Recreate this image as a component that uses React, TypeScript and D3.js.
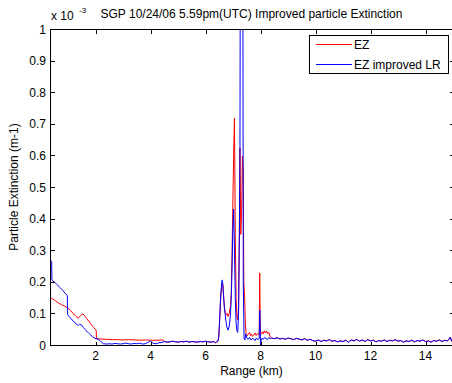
import * as d3 from 'd3';

const width = 452;
const height = 383;
const plot = { left: 50, right: 453, top: 29, bottom: 345 };

const xTicks = [2, 4, 6, 8, 10, 12, 14];
const yTicks = [0, 0.1, 0.2, 0.3, 0.4, 0.5, 0.6, 0.7, 0.8, 0.9, 1];
const yTickLabels = ['0', '0.1', '0.2', '0.3', '0.4', '0.5', '0.6', '0.7', '0.8', '0.9', '1'];

// [range km, extinction x 1e-3]
const ezNear: [number, number][] = [
  [0.34, 0.151], [0.45, 0.145], [0.55, 0.139], [0.65, 0.133], [0.75, 0.128], [0.85, 0.124],
  [0.95, 0.119], [1.02, 0.116], [1.1, 0.108], [1.2, 0.098], [1.28, 0.091], [1.36, 0.085],
  [1.42, 0.09], [1.48, 0.096], [1.54, 0.098], [1.6, 0.093], [1.68, 0.083], [1.76, 0.074],
  [1.84, 0.065], [1.92, 0.056], [2.0, 0.048], [2.02, 0.047], [2.03, 0.019], [2.2, 0.019],
  [2.4, 0.018], [2.6, 0.017], [2.8, 0.017], [3.0, 0.016], [3.2, 0.017], [3.4, 0.016],
  [3.6, 0.015], [3.8, 0.016], [4.0, 0.015], [4.2, 0.015], [4.45, 0.016],
];

const lrNear: [number, number][] = [
  [0.34, 0.27], [0.37, 0.268], [0.4, 0.262], [0.41, 0.205], [0.45, 0.202], [0.52, 0.198],
  [0.6, 0.191], [0.7, 0.182], [0.8, 0.173], [0.9, 0.163], [0.97, 0.156], [0.98, 0.096],
  [1.05, 0.089], [1.15, 0.079], [1.25, 0.07], [1.33, 0.064], [1.37, 0.062], [1.42, 0.066],
  [1.49, 0.063], [1.55, 0.056], [1.63, 0.048], [1.72, 0.04], [1.8, 0.033], [1.88, 0.027],
  [1.97, 0.021], [2.05, 0.02], [2.12, 0.017], [2.2, 0.01], [2.28, 0.004],
];

const lrGap: [number, number][] = [
  [2.4, 0.003], [2.5, 0.004], [2.6, 0.003], [2.7, 0.005], [2.8, 0.004], [2.9, 0.003],
  [3.0, 0.004], [3.1, 0.006], [3.2, 0.004], [3.3, 0.003], [3.4, 0.005], [3.5, 0.004],
  [3.6, 0.006], [3.7, 0.003], [3.8, 0.004], [3.9, 0.008], [4.0, 0.012], [4.1, 0.005],
  [4.2, 0.004], [4.3, 0.007], [4.45, 0.009],
];

const midShared: [number, number][] = [
  [4.5, 0.011], [4.6, 0.009], [4.7, 0.01], [4.8, 0.012], [4.9, 0.01], [5.0, 0.009],
  [5.1, 0.011], [5.2, 0.01], [5.3, 0.012], [5.4, 0.009], [5.5, 0.011], [5.6, 0.01],
  [5.7, 0.009], [5.8, 0.011], [5.9, 0.01], [6.0, 0.012], [6.1, 0.01], [6.2, 0.009],
  [6.3, 0.011], [6.35, 0.007], [6.4, 0.01],
];

const ezPeak: [number, number][] = [
  [6.45, 0.012], [6.48, 0.025], [6.51, 0.07], [6.54, 0.13], [6.57, 0.17], [6.6, 0.195],
  [6.63, 0.19], [6.66, 0.15], [6.69, 0.115], [6.72, 0.1], [6.75, 0.095], [6.78, 0.1],
  [6.82, 0.09], [6.86, 0.1], [6.9, 0.12], [6.93, 0.16], [6.96, 0.28], [6.99, 0.44],
  [7.02, 0.6], [7.05, 0.718], [7.08, 0.35], [7.11, 0.15], [7.14, 0.09], [7.17, 0.08],
  [7.2, 0.12], [7.23, 0.38], [7.25, 0.623], [7.28, 0.35], [7.31, 0.42], [7.34, 0.598],
  [7.37, 0.55], [7.39, 0.2], [7.42, 0.15], [7.45, 0.06], [7.48, 0.03],
];

const lrPeak: [number, number][] = [
  [6.45, 0.012], [6.48, 0.03], [6.51, 0.08], [6.54, 0.14], [6.57, 0.18], [6.6, 0.206],
  [6.62, 0.2], [6.65, 0.16], [6.68, 0.12], [6.71, 0.1], [6.74, 0.075], [6.78, 0.055],
  [6.82, 0.047], [6.86, 0.06], [6.9, 0.09], [6.93, 0.14], [6.96, 0.23], [6.99, 0.36],
  [7.02, 0.43], [7.05, 0.3], [7.08, 0.15], [7.11, 0.07], [7.14, 0.045], [7.17, 0.04],
  [7.2, 0.1], [7.23, 0.35], [7.25, 0.62], [7.265, 1.4], [7.355, 1.3], [7.37, 0.2],
  [7.4, 0.02], [7.43, 0.016], [7.46, 0.035],
];

const ezTail: [number, number][] = [
  [7.5, 0.028], [7.55, 0.034], [7.6, 0.04], [7.63, 0.03], [7.67, 0.035], [7.7, 0.027],
  [7.75, 0.032], [7.8, 0.038], [7.84, 0.03], [7.88, 0.036], [7.92, 0.033], [7.95, 0.04],
  [7.97, 0.228], [7.99, 0.03], [8.03, 0.038], [8.07, 0.042], [8.1, 0.035], [8.14, 0.045],
  [8.18, 0.038], [8.22, 0.044], [8.26, 0.036], [8.3, 0.04], [8.34, 0.028], [8.4, 0.022],
];

const lrTail: [number, number][] = [
  [7.5, 0.022], [7.55, 0.018], [7.6, 0.024], [7.65, 0.016], [7.7, 0.021], [7.75, 0.019],
  [7.8, 0.014], [7.85, 0.022], [7.9, 0.017], [7.95, 0.02], [7.97, 0.11], [7.99, 0.04],
  [8.0, -0.02], [8.02, 0.015], [8.06, 0.022], [8.1, 0.018], [8.15, 0.024], [8.2, 0.02],
  [8.25, 0.017], [8.3, 0.023], [8.35, 0.02], [8.4, 0.022],
];

const farShared: [number, number][] = [
  [8.5, 0.02], [8.6, 0.023], [8.7, 0.019], [8.8, 0.021], [8.9, 0.018], [9.0, 0.022],
  [9.1, 0.02], [9.2, 0.017], [9.3, 0.021], [9.4, 0.019], [9.5, 0.016], [9.6, 0.02],
  [9.7, 0.015], [9.8, 0.018], [9.9, 0.014], [10.0, 0.012], [10.1, 0.016], [10.2, 0.011],
  [10.3, 0.015], [10.4, 0.013], [10.5, 0.017], [10.6, 0.012], [10.7, 0.014], [10.8, 0.01],
  [10.9, 0.013], [11.0, 0.011], [11.1, 0.015], [11.2, 0.009], [11.3, 0.016], [11.4, 0.013],
  [11.5, 0.018], [11.6, 0.012], [11.7, 0.016], [11.8, 0.011], [11.9, 0.017], [12.0, 0.013],
  [12.1, 0.015], [12.2, 0.01], [12.3, 0.014], [12.4, 0.012], [12.5, 0.016], [12.6, 0.011],
  [12.7, 0.015], [12.8, 0.013], [12.9, 0.017], [13.0, 0.012], [13.1, 0.014], [13.2, 0.009],
  [13.3, 0.013], [13.4, 0.011], [13.5, 0.015], [13.6, 0.01], [13.7, 0.014], [13.8, 0.012],
  [13.9, 0.016], [14.0, 0.011], [14.1, 0.013], [14.2, 0.009], [14.3, 0.014], [14.4, 0.012],
  [14.5, 0.016], [14.6, 0.011], [14.7, 0.015], [14.8, 0.013], [14.9, 0.024], [14.95, 0.012],
  [15.0, 0.028],
];

const ezSeries = [...ezNear, ...midShared, ...ezPeak, ...ezTail, ...farShared];
const lrSeries = [...lrNear, ...lrGap, ...midShared, ...lrPeak, ...lrTail, ...farShared];

const series = [
  { name: 'EZ', color: '#ff0000', data: ezSeries },
  { name: 'EZ improved LR', color: '#0000ff', data: lrSeries },
];

const font = '"Liberation Sans", Arial, sans-serif';

export default function App() {
  const x = d3.scaleLinear().domain([0.34, 15]).range([plot.left, plot.right]);
  const y = d3.scaleLinear().domain([0, 1]).range([plot.bottom, plot.top]);

  const line = d3
    .line<[number, number]>()
    .x((d) => x(d[0]))
    .y((d) => y(d[1]));

  const tick = 4;
  const px = (v: number) => Math.round(v) + 0.5;

  return (
    <svg
      width={width}
      height={height}
      style={{ position: 'absolute', left: 0, top: 0, background: '#fff' }}
      fontFamily={font}
      fontSize={12}
    >
      <defs>
        <clipPath id="plot-clip">
          <rect x={plot.left + 1} y={plot.top} width={plot.right - plot.left} height={plot.bottom - plot.top} />
        </clipPath>
      </defs>
      <rect width={width} height={height} fill="#fff" />

      {/* data lines */}
      <g clipPath="url(#plot-clip)">
        {series.map((s) => (
          <path key={s.name} d={line(s.data) ?? ''} fill="none" stroke={s.color} strokeWidth={1} />
        ))}
      </g>

      {/* axes box and ticks */}
      <g stroke="#000" strokeWidth={1} shapeRendering="crispEdges">
        <rect
          x={px(plot.left)}
          y={px(plot.top)}
          width={Math.round(plot.right - plot.left)}
          height={Math.round(plot.bottom - plot.top)}
          fill="none"
        />
        {xTicks.map((t) => (
          <g key={`xt${t}`}>
            <line x1={px(x(t))} x2={px(x(t))} y1={px(plot.bottom)} y2={px(plot.bottom) - tick} />
            <line x1={px(x(t))} x2={px(x(t))} y1={px(plot.top)} y2={px(plot.top) + tick} />
          </g>
        ))}
        {yTicks.map((t) => (
          <g key={`yt${t}`}>
            <line x1={px(plot.left)} x2={px(plot.left) + tick} y1={px(y(t))} y2={px(y(t))} />
            <line x1={px(plot.right)} x2={px(plot.right) - tick} y1={px(y(t))} y2={px(y(t))} />
          </g>
        ))}
      </g>

      {/* tick labels */}
      {xTicks.map((t) => (
        <text key={`xl${t}`} x={x(t)} y={360} textAnchor="middle" fill="#000">
          {t}
        </text>
      ))}
      {yTicks.map((t, i) => (
        <text key={`yl${t}`} x={46} y={y(t) + 4.5} textAnchor="end" fill="#000">
          {yTickLabels[i]}
        </text>
      ))}

      {/* exponent */}
      <text x={51} y={20} fill="#000">
        x 10
      </text>
      <text x={79} y={13} fontSize={8} fill="#000">
        -3
      </text>

      {/* title and labels */}
      <text x={(plot.left + plot.right) / 2} y={18} textAnchor="middle" fill="#000">
        SGP 10/24/06 5.59pm(UTC) Improved particle Extinction
      </text>
      <text x={(plot.left + plot.right) / 2} y={375} textAnchor="middle" fill="#000">
        Range (km)
      </text>
      <text
        transform={`translate(18,${(plot.top + plot.bottom) / 2}) rotate(-90)`}
        textAnchor="middle"
        fill="#000"
      >
        Particle Extinction (m-1)
      </text>

      {/* legend */}
      <g>
        <rect x={309.5} y={35.5} width={139} height={38} fill="#fff" stroke="#000" strokeWidth={1} shapeRendering="crispEdges" />
        {series.map((s, i) => (
          <g key={`lg${s.name}`}>
            <line x1={316} x2={352} y1={44.5 + i * 20} y2={44.5 + i * 20} stroke={s.color} strokeWidth={1} />
            <text x={354} y={48.5 + i * 20} fill="#000">
              {s.name}
            </text>
          </g>
        ))}
      </g>
    </svg>
  );
}
